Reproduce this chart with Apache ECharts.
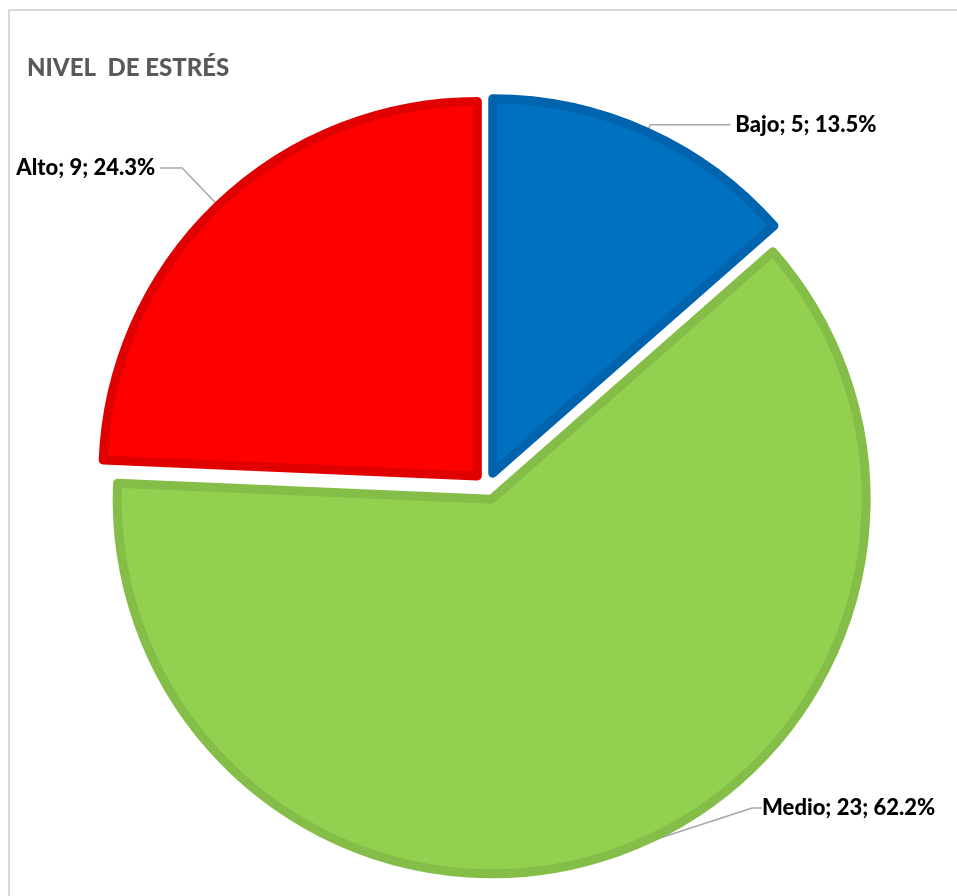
<!DOCTYPE html>
<html>
<head>
<meta charset="utf-8">
<script src="https://cdn.jsdelivr.net/npm/echarts@6/dist/echarts.min.js"></script>
<style>
  html, body { margin: 0; padding: 0; background: #fff; }
  #frame { position: absolute; left: 8px; top: 9px; width: 1200px; height: 1200px; border: 2px solid #d9d9d9; box-sizing: border-box; }
  #chart { position: absolute; left: 0; top: 0; width: 957px; height: 896px; }
</style>
</head>
<body>
<div id="frame"></div>
<div id="chart"></div>
<script>
// ---- data ----
const titleText = 'NIVEL  DE ESTRÉS';
const categories = ['Bajo', 'Medio', 'Alto'];
const values = [5, 23, 9];

// ---- styles / layout ----
const fillColors = ['#0070C0', '#92D050', '#FF0000'];
const borderColors = ['#0063AD', '#84BD48', '#E00000'];
const lineLengths = [[8, 80], [20, 10], [52, 22]];
const CX = 487, CY = 486, R = 374.5, EXPLODE = 14;
const movedLabel = 1; // index of the label placed off its default spot (Medio)

const labelStyle = {
  show: true,
  position: 'outside',
  fontFamily: 'Lato',
  fontWeight: 900,
  fontSize: 22,
  color: '#000',
  formatter: p => p.name + '; ' + p.value + '; ' + p.percent.toFixed(1) + '%'
};
const lineStyle = { color: '#A6A6A6', width: 1.5 };

// main exploded pie (all slices selected -> offset outward)
const mainData = categories.map((name, i) => ({
  name: name,
  value: values[i],
  selected: true,
  itemStyle: { color: fillColors[i], borderColor: borderColors[i] },
  label: { show: i !== movedLabel },
  labelLine: { show: i !== movedLabel, length: lineLengths[i][0], length2: lineLengths[i][1] }
}));

// overlay pie (invisible) carrying the repositioned label, centred at that slice's exploded centre
const total = values.reduce((a, b) => a + b, 0);
const before = values.slice(0, movedLabel).reduce((a, b) => a + b, 0);
const midAngle = (before + values[movedLabel] / 2) / total * 2 * Math.PI;
const ovCenter = [CX + EXPLODE * Math.sin(midAngle), CY - EXPLODE * Math.cos(midAngle)];
const overlayData = categories.map((name, i) => ({
  name: name,
  value: values[i],
  itemStyle: { color: 'rgba(0,0,0,0)', borderWidth: 0 },
  label: { show: i === movedLabel },
  labelLine: { show: i === movedLabel, length: 10, length2: 10 }
}));

const chart = echarts.init(document.getElementById('chart'), null, { renderer: 'canvas' });
chart.setOption({
  animation: false,
  title: {
    text: titleText,
    left: 27,
    top: 56,
    padding: 0,
    textStyle: { fontFamily: 'Lato', fontWeight: 900, fontSize: 24, color: '#595959' }
  },
  series: [{
    type: 'pie',
    center: [CX, CY],
    radius: R,
    startAngle: 90,
    clockwise: true,
    selectedMode: 'multiple',
    selectedOffset: EXPLODE,
    avoidLabelOverlap: false,
    emphasis: { disabled: true },
    itemStyle: { borderWidth: 9 },
    label: labelStyle,
    labelLine: { show: true, lineStyle: lineStyle },
    data: mainData
  }, {
    type: 'pie',
    silent: true,
    center: ovCenter,
    radius: R,
    startAngle: 90,
    clockwise: true,
    avoidLabelOverlap: false,
    emphasis: { disabled: true },
    label: labelStyle,
    labelLine: { show: true, lineStyle: lineStyle },
    labelLayout: function (params) {
      if (params.dataIndex === movedLabel) {
        return { x: 762, y: 808, align: 'left', verticalAlign: 'middle' };
      }
      return {};
    },
    data: overlayData
  }]
});
</script>
</body>
</html>
